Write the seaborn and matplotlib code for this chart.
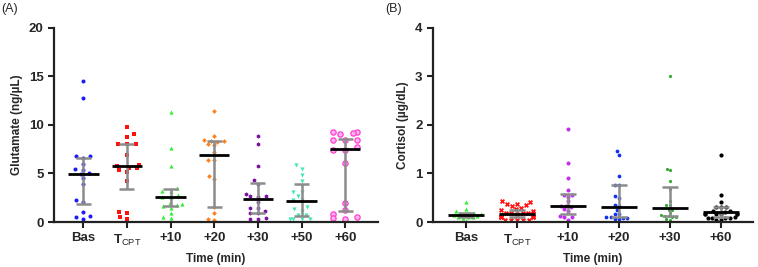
import numpy as np
import pandas as pd
import seaborn as sns
import matplotlib.pyplot as plt

# Panel A - glutamate (ng/uL)
glu_times = ['Bas', 'TCPT', '+10', '+20', '+30', '+50', '+60']
glu_bas = [14.5, 12.75, 6.8, 6.8, 6.6, 6.0, 5.5, 5.4, 5.0, 4.9, 4.5, 3.95, 2.3, 2.1, 1.0, 0.6, 0.5, 0.35]
glu_tcpt = [9.76, 9.1, 8.8, 8.04, 8.04, 8.04, 6.9, 5.9, 5.8, 5.6, 5.6, 5.36, 5.15, 4.26, 1.07, 0.9, 0.55, 0.27]
glu_p10 = [11.3, 7.66, 5.77, 3.47, 3.2, 3.2, 2.78, 2.58, 2.55, 1.96, 1.82, 1.75, 1.68, 1.48, 0.93, 0.52, 0.38]
glu_p20 = [11.48, 8.9, 8.42, 8.32, 8.32, 8.25, 8.0, 7.94, 7.25, 6.4, 6.36, 4.7, 4.47, 1.58, 0.9, 0.27, 0.17]
glu_p30 = [8.87, 8.0, 5.74, 4.3, 3.92, 2.89, 2.65, 2.65, 2.58, 2.06, 1.48, 1.41, 1.13, 0.89, 0.89, 0.41, 0.31, 0.27]
glu_p50 = [5.84, 5.5, 4.88, 4.19, 3.7, 3.13, 3.13, 2.65, 2.27, 2.27, 1.51, 1.37, 1.17, 0.72, 0.72, 0.34, 0.34, 0.34, 0.34]
glu_p60 = [9.24, 9.24, 9.18, 9.04, 8.42, 8.42, 8.42, 7.7, 7.46, 7.42, 6.08, 1.96, 1.2, 0.79, 0.55, 0.45, 0.34]
# median and interquartile range as shown on the chart
glu_med = [4.93, 5.74, 2.54, 6.87, 2.34, 2.13, 7.56]
glu_q1 = [1.82, 3.44, 1.65, 1.58, 0.96, 0.65, 1.10]
glu_q3 = [6.56, 8.04, 3.37, 8.32, 4.05, 3.95, 8.59]

# Panel B - cortisol (ug/dL)
cor_times = ['Bas', 'TCPT', '+10', '+20', '+30', '+60']
cor_bas = [0.41, 0.26, 0.23, 0.19, 0.19, 0.16, 0.14, 0.16, 0.18, 0.1, 0.08, 0.1, 0.12, 0.1, 0.02]
cor_tcpt = [0.42, 0.38, 0.43, 0.35, 0.34, 0.38, 0.26, 0.25, 0.23, 0.28, 0.18, 0.16, 0.19, 0.18,
            0.19, 0.18, 0.11, 0.10, 0.11, 0.12, 0.10, 0.11, 0.12, 0.04, 0.04, 0.05, 0.05, 0.04]
cor_p10 = [1.92, 1.21, 0.9, 0.65, 0.56, 0.55, 0.52, 0.43, 0.34, 0.34, 0.30, 0.27, 0.23, 0.13, 0.1, 0.1, 0.05]
cor_p20 = [1.46, 1.39, 0.95, 0.76, 0.76, 0.53, 0.5, 0.34, 0.36, 0.24, 0.17, 0.17, 0.1, 0.08, 0.08, 0.1, 0.07, 0.055]
cor_p30 = [3.0, 1.09, 1.07, 0.85, 0.69, 0.44, 0.36, 0.36, 0.25, 0.25, 0.19, 0.14, 0.12, 0.1, 0.1, 0.12, 0.06, 0.05]
cor_p60 = [1.39, 0.56, 0.41, 0.3, 0.31, 0.3, 0.23, 0.21, 0.23, 0.16, 0.16, 0.16, 0.16, 0.16, 0.16,
           0.09, 0.09, 0.09, 0.09, 0.1, 0.04, 0.04]
cor_med = [0.144, 0.165, 0.34, 0.30, 0.29, 0.20]
cor_q1 = [0.11, 0.11, 0.17, 0.10, 0.12, 0.10]
cor_q3 = [0.19, 0.25, 0.58, 0.76, 0.73, 0.31]

tick_labels_a = ['Bas', r'$\mathbf{T}_{\mathrm{CPT}}$', '+10', '+20', '+30', '+50', '+60']
tick_labels_b = ['Bas', r'$\mathbf{T}_{\mathrm{CPT}}$', '+10', '+20', '+30', '+60']

# marker styles per group: (color, marker, size, edgecolor)
styles_a = [('#1a1aff', 'o', 2.9, None), ('#ff1010', 's', 3.2, None), ('#33ee33', '^', 3.0, None),
            ('#ff7f1a', 'D', 2.4, None), ('#7a10a0', 'h', 3.0, None), ('#40e8b8', 'v', 3.0, None),
            ('#ffb0ee', 'o', 3.8, '#ff40d0')]
styles_b = [('#33ee33', '^', 3.0, None), ('#ff1010', 'X', 3.6, None), ('#c030f0', 'o', 2.9, None),
            ('#1030ee', 'o', 2.7, None), ('#33aa33', 'o', 2.3, None), ('#000000', 'o', 3.0, None)]


def long_table(times, groups):
    rows = []
    for t, vals in zip(times, groups):
        for v in vals:
            rows.append((t, v))
    return pd.DataFrame(rows, columns=['time', 'value'])


def draw_panel(ax, df, times, styles, med, q1, q3, half_med, half_cap):
    swarms = []
    for i, (t, (col, mk, sz, ec)) in enumerate(zip(times, styles)):
        kw = dict(linewidth=0)
        if ec is not None:
            kw = dict(linewidth=0.9, edgecolor=ec)
        n0 = len(ax.collections)
        sns.swarmplot(data=df[df.time == t], x='time', y='value', order=times,
                      color=col, marker=mk, size=sz, ax=ax, zorder=2, **kw)
        swarms += [(c, i) for c in ax.collections[n0:]]
    xs = np.arange(len(times))
    ax.vlines(xs, q1, q3, color='#8c8c8c', linewidth=1.8, zorder=3)
    ax.hlines(q1, xs - half_cap, xs + half_cap, color='#8c8c8c', linewidth=1.8, zorder=3)
    ax.hlines(q3, xs - half_cap, xs + half_cap, color='#8c8c8c', linewidth=1.8, zorder=3)
    ax.hlines(med, xs - half_med, xs + half_med, color='black', linewidth=2.0, zorder=4)
    return swarms


def widen(swarms, factor, limit):
    # GraphPad spreads the dots wider than a tight beeswarm
    for c, i in swarms:
        off = np.array(c.get_offsets())
        dx = np.clip((off[:, 0] - i) * factor, -limit, limit)
        off[:, 0] = i + dx
        c.set_offsets(off)
        if 'draw' in c.__dict__:
            del c.draw


sns.set_style('ticks')
plt.rcParams['font.family'] = ['Liberation Sans', 'DejaVu Sans']
plt.rcParams['mathtext.fontset'] = 'custom'
plt.rcParams['mathtext.rm'] = 'Liberation Sans'
plt.rcParams['mathtext.bf'] = 'Liberation Sans:bold'

fig = plt.figure(figsize=(7.58, 2.67), dpi=100)
ax_a = fig.add_axes([0.0712, 0.1685, 0.428, 0.727])
ax_b = fig.add_axes([0.571, 0.1685, 0.422, 0.727])

df_a = long_table(glu_times, [glu_bas, glu_tcpt, glu_p10, glu_p20, glu_p30, glu_p50, glu_p60])
df_b = long_table(cor_times, [cor_bas, cor_tcpt, cor_p10, cor_p20, cor_p30, cor_p60])

sw_a = draw_panel(ax_a, df_a, glu_times, styles_a, glu_med, glu_q1, glu_q3, 0.35, 0.17)
sw_b = draw_panel(ax_b, df_b, cor_times, styles_b, cor_med, cor_q1, cor_q3, 0.35, 0.165)

ax_a.set_xlim(-0.67, 6.76)
ax_a.set_ylim(0, 20)
ax_a.set_yticks([0, 5, 10, 15, 20])
ax_a.set_xticks(range(len(glu_times)), tick_labels_a)
ax_a.set_ylabel('Glutamate (ng/µL)', fontsize=8.5, fontweight='bold')

ax_b.set_xlim(-0.65, 5.62)
ax_b.set_ylim(0, 4)
ax_b.set_yticks([0, 1, 2, 3, 4])
ax_b.set_xticks(range(len(cor_times)), tick_labels_b)
ax_b.set_ylabel('Cortisol (µg/dL)', fontsize=8.5, fontweight='bold')

for ax in (ax_a, ax_b):
    ax.set_xlabel('Time (min)', fontsize=8.5, fontweight='bold')
    for s in ('top', 'right'):
        ax.spines[s].set_visible(False)
    for s in ('left', 'bottom'):
        ax.spines[s].set_linewidth(1.6)
        ax.spines[s].set_color('#222222')
    ax.tick_params(axis='both', length=4, width=1.5, color='#222222', labelsize=9.5)
    for lab in ax.get_xticklabels() + ax.get_yticklabels():
        lab.set_fontweight('bold')

fig.text(0.002, 0.99, '(A)', fontsize=9, va='top', ha='left')
fig.text(0.508, 0.99, '(B)', fontsize=9, va='top', ha='left')

# run the beeswarm layout once, then spread it out
fig.canvas.draw()
widen(sw_a, 1.9, 0.27)
widen(sw_b, 1.1, 0.32)

plt.savefig('out.png', dpi=100)
plt.close()
